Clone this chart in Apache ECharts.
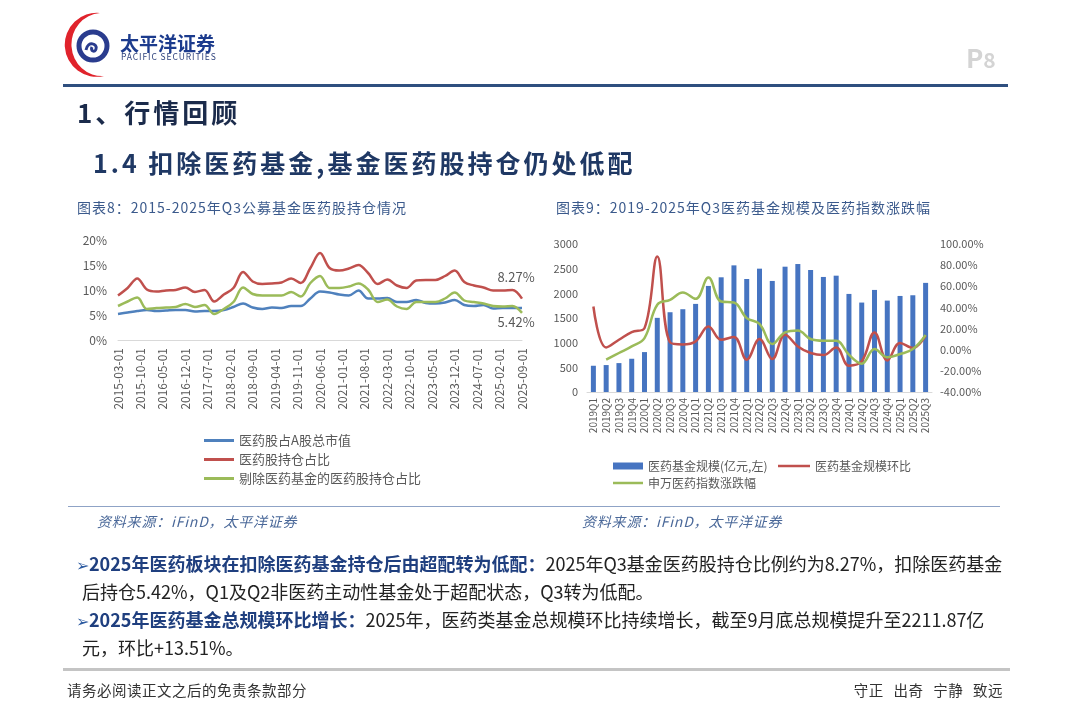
<!DOCTYPE html>
<html>
<head>
<meta charset="utf-8">
<script src="https://cdn.jsdelivr.net/npm/echarts@6/dist/echarts.min.js"></script>
<style>
  html, body { margin: 0; padding: 0; background: #fff; }
  body { width: 1080px; height: 723px; position: relative; overflow: hidden; font-family: "Noto Sans CJK SC", "Noto Sans", sans-serif; }
  #main { position: absolute; left: 0; top: 0; width: 1080px; height: 723px; }
  .txt { position: absolute; white-space: nowrap; }
  .bar { position: absolute; }
  .hl { color: #1f3f7f; font-weight: bold; }
  .arrow { color: #2c5aa0; font-size: 16px; }
</style>
</head>
<body>
<div id="main"></div>

<!-- 页眉 -->
<svg class="bar" style="left:60px;top:8px" width="60" height="74" viewBox="60 8 60 74">
  <path d="M100 13 A32 32 0 1 0 104 76 A30 31 0 0 1 100 13 Z" fill="#e0232c"/>
  <circle cx="93" cy="46" r="14" fill="none" stroke="#2a3c8e" stroke-width="5"/>
  <path d="M86 50 C88 40 98 44 96 49 C95 53 90 51 92 47" fill="none" stroke="#2a3c8e" stroke-width="3"/>
</svg>
<div class="txt" style="left:120px;top:33px;font-size:19px;line-height:19px;font-weight:bold;color:#1c3b8d;">太平洋证券</div>
<div class="txt" style="left:121px;top:52px;font-size:8.5px;line-height:9px;letter-spacing:0.9px;color:#2b3f7a;">PACIFIC SECURITIES</div>
<div class="txt" style="left:966px;top:44px;font-size:26px;line-height:26px;font-weight:bold;color:#d4d4d4;">P<span style="font-size:21px">8</span></div>
<div class="bar" style="left:63px;top:84px;width:945px;height:3px;background:#2f4f7f;"></div>

<div class="txt" style="left:77px;top:98px;font-size:26px;line-height:28px;letter-spacing:3px;font-weight:bold;color:#1b2b4b;">1、行情回顾</div>
<div class="txt" style="left:93px;top:148px;font-size:25px;line-height:28px;letter-spacing:3px;font-weight:bold;color:#1f3864;">1.4 扣除医药基金,基金医药股持仓仍处低配</div>

<div class="txt" style="left:77px;top:199px;font-size:14px;line-height:16px;letter-spacing:1px;color:#3b5a8c;">图表8：2015-2025年Q3公募基金医药股持仓情况</div>
<div class="txt" style="left:556px;top:199px;font-size:14px;line-height:16px;letter-spacing:1px;color:#3b5a8c;">图表9：2019-2025年Q3医药基金规模及医药指数涨跌幅</div>

<div class="bar" style="left:68px;top:506px;width:932px;height:1px;background:#8fa3c6;"></div>
<div class="txt" style="left:97px;top:513px;font-size:14px;line-height:16px;letter-spacing:0.8px;font-style:italic;color:#4a6899;">资料来源：iFinD，太平洋证券</div>
<div class="txt" style="left:582px;top:513px;font-size:14px;line-height:16px;letter-spacing:0.8px;font-style:italic;color:#4a6899;">资料来源：iFinD，太平洋证券</div>

<div class="txt" style="left:76px;top:552px;font-size:18px;line-height:22px;color:#222;"><span class="arrow">➢</span><span class="hl">2025年医药板块在扣除医药基金持仓后由超配转为低配：</span>2025年Q3基金医药股持仓比例约为8.27%，扣除医药基金</div>
<div class="txt" style="left:82px;top:580px;font-size:18px;line-height:22px;color:#222;">后持仓5.42%，Q1及Q2非医药主动性基金处于超配状态，Q3转为低配。</div>
<div class="txt" style="left:76px;top:608px;font-size:18px;line-height:22px;color:#222;"><span class="arrow">➢</span><span class="hl">2025年医药基金总规模环比增长：</span>2025年，医药类基金总规模环比持续增长，截至9月底总规模提升至2211.87亿</div>
<div class="txt" style="left:82px;top:636px;font-size:18px;line-height:22px;color:#222;">元，环比+13.51%。</div>

<div class="bar" style="left:63px;top:668px;width:947px;height:3px;background:#c4c4c4;"></div>
<div class="txt" style="left:67px;top:682px;font-size:14.5px;line-height:16px;letter-spacing:0.5px;color:#333;">请务必阅读正文之后的免责条款部分</div>
<div class="txt" style="right:77px;top:682px;font-size:14.5px;line-height:16px;letter-spacing:0.5px;word-spacing:6px;color:#333;">守正 出奇 宁静 致远</div>

<script>
var FONT = 'Noto Sans CJK SC';

// 图表8：季度数据（%）
var holdDates = [];
for (var y = 2015; y <= 2025; y++) {
  ['03', '06', '09', '12'].forEach(function (m) {
    if ((y === 2015 && m < '03') || (y === 2025 && m > '09')) return;
    holdDates.push(y + '-' + m + '-01');
  });
}
// x轴月度刻度
var monthCats = [];
for (var yy = 2015; yy <= 2025; yy++) {
  for (var mm = 1; mm <= 12; mm++) {
    if ((yy === 2015 && mm < 3) || (yy === 2025 && mm > 9)) continue;
    monthCats.push(yy + '-' + (mm < 10 ? '0' + mm : mm) + '-01');
  }
}
var mktShare = [5.2, 5.5, 5.8, 6.0, 5.8, 5.9, 6.0, 6.0, 5.7, 5.8, 5.8, 6.0, 6.6, 7.3, 6.5, 6.2, 6.5, 6.4, 6.8, 6.8,
  8.3, 9.7, 9.5, 9.1, 8.9, 9.9, 8.3, 8.3, 8.4, 7.6, 7.6, 8.0, 7.4, 7.3, 7.5, 8.0, 7.0, 6.8, 7.0, 6.3, 6.4, 6.4, 6.4];
var holdRatio = [8.9, 10.4, 12.3, 10.1, 9.7, 9.9, 10.0, 10.5, 9.6, 10.0, 7.7, 9.1, 10.4, 13.6, 11.7, 11.2, 11.3, 11.5, 12.3, 11.4,
  14.4, 17.4, 14.4, 13.9, 14.3, 15.0, 13.4, 11.2, 12.1, 10.9, 10.4, 11.9, 12.0, 12.0, 12.8, 13.9, 11.6, 10.9, 10.5, 9.9, 9.9, 10.0, 8.27];
var holdExFund = [6.8, 7.7, 8.5, 6.2, 6.4, 6.5, 6.6, 7.2, 6.6, 7.0, 5.2, 6.2, 7.6, 10.5, 9.2, 8.9, 8.9, 8.9, 9.6, 8.7,
  11.4, 12.8, 10.4, 10.4, 10.7, 11.3, 10.1, 7.6, 8.1, 6.7, 6.2, 7.6, 7.6, 7.6, 8.3, 9.5, 7.9, 7.6, 7.3, 6.8, 6.7, 6.8, 5.42];

// 图表9
var quarters = ['2019Q1', '2019Q2', '2019Q3', '2019Q4', '2020Q1', '2020Q2', '2020Q3', '2020Q4', '2021Q1', '2021Q2',
  '2021Q3', '2021Q4', '2022Q1', '2022Q2', '2022Q3', '2022Q4', '2023Q1', '2023Q2', '2023Q3', '2023Q4',
  '2024Q1', '2024Q2', '2024Q3', '2024Q4', '2025Q1', '2025Q2', '2025Q3'];
var fundSize = [532, 546, 586, 674, 809, 1503, 1617, 1678, 1786, 2150, 2325, 2567, 2291, 2500, 2251, 2540, 2594, 2473, 2332, 2358,
  1988, 1813, 2069, 1853, 1947, 1961, 2212];
var sizeQoq = [40.9, 2.2, 9.4, 16.7, 20.4, 88.1, 6.9, 5.0, 7.9, 22.0, 9.4, 12.0, -9.4, 10.1, -8.8, 14.2, 3.1, -3.1, -5.0, 2.2,
  -15.1, -11.0, 16.4, -10.1, 6.3, 1.6, 13.51];
var indexChg = [null, -9.4, -3.1, 3.1, 11.0, 42.5, 47.2, 54.1, 48.1, 68.2, 45.6, 44.7, 29.9, 24.5, 5.3, 16.4, 18.2, 10.1, 8.5, 8.5,
  -4.7, -13.2, 0.6, -7.2, -4.1, 0.6, 14.0];

var leftNames = ['医药股占A股总市值', '医药股持仓占比', '剔除医药基金的医药股持仓占比'];
var rightNames = ['医药基金规模(亿元,左)', '医药基金规模环比', '申万医药指数涨跌幅'];

function pairs(vals) {
  return vals.map(function (v, i) { return [holdDates[i], v]; });
}
function lastMark(vals, pos, offset) {
  var n = vals.length - 1;
  return {
    symbol: 'circle', symbolSize: 1,
    itemStyle: { color: 'rgba(0,0,0,0)' },
    label: { show: true, position: pos, offset: offset, color: '#595959', fontSize: 13, fontFamily: FONT,
      formatter: vals[n].toFixed(2) + '%' },
    data: [{ coord: [holdDates[n], vals[n]] }]
  };
}

var labelColor = '#595959';
var legendText = { fontSize: 12, color: labelColor };
var myChart = echarts.init(document.getElementById('main'));
var option = {
  animation: false,
  textStyle: { fontFamily: FONT },
  grid: [
    { left: 118, top: 240, width: 404, height: 100 },
    { left: 587, top: 244, width: 345, height: 148 }
  ],
  legend: [{
    data: leftNames,
    orient: 'vertical',
    left: 199, top: 429, icon: 'rect',
    itemWidth: 30, itemHeight: 3, itemGap: 6,
    textStyle: { fontSize: 13, color: labelColor }
  }, {
    data: [rightNames[0]],
    left: 608, top: 455, icon: 'rect',
    itemWidth: 30, itemHeight: 7, textStyle: legendText
  }, {
    data: [rightNames[1]],
    left: 773, top: 455, icon: 'rect',
    itemWidth: 32, itemHeight: 2.5, textStyle: legendText
  }, {
    data: [rightNames[2]],
    left: 608, top: 472, icon: 'rect',
    itemWidth: 30, itemHeight: 2.5, textStyle: legendText
  }],
  xAxis: [{
    gridIndex: 0, type: 'category', data: monthCats, boundaryGap: false,
    axisLine: { lineStyle: { color: '#d9d9d9' } },
    axisTick: { show: false },
    axisLabel: { interval: 6, rotate: 90, color: labelColor, fontSize: 12, margin: 8 }
  }, {
    gridIndex: 1, type: 'category', data: quarters,
    axisLine: { lineStyle: { color: '#d9d9d9' } },
    axisTick: { show: false },
    axisLabel: { interval: 0, rotate: 90, color: labelColor, fontSize: 10, margin: 6 }
  }],
  yAxis: [{
    gridIndex: 0, type: 'value', min: 0, max: 20, interval: 5,
    axisLabel: { formatter: '{value}%', color: labelColor, fontSize: 12, margin: 11 },
    axisLine: { show: false }, axisTick: { show: false }, splitLine: { show: false }
  }, {
    gridIndex: 1, type: 'value', min: 0, max: 3000, interval: 500,
    axisLabel: { color: labelColor, fontSize: 11, margin: 9,
      formatter: function (v) { return String(v); } },
    axisLine: { show: false }, axisTick: { show: false }, splitLine: { show: false }
  }, {
    gridIndex: 1, type: 'value', min: -40, max: 100, interval: 20, position: 'right',
    axisLabel: { color: labelColor, fontSize: 11, margin: 8,
      formatter: function (v) { return v.toFixed(2) + '%'; } },
    axisLine: { show: false }, axisTick: { show: false }, splitLine: { show: false }
  }],
  series: [{
    name: leftNames[0], type: 'line', xAxisIndex: 0, yAxisIndex: 0,
    data: pairs(mktShare), smooth: 0.35, symbol: 'none',
    lineStyle: { color: '#4f81bd', width: 2.5 }, itemStyle: { color: '#4f81bd' }
  }, {
    name: leftNames[1], type: 'line', xAxisIndex: 0, yAxisIndex: 0,
    data: pairs(holdRatio), smooth: 0.35, symbol: 'none',
    lineStyle: { color: '#c0504d', width: 2.5 }, itemStyle: { color: '#c0504d' },
    markPoint: lastMark(holdRatio, 'top', [-6, -10])
  }, {
    name: leftNames[2], type: 'line', xAxisIndex: 0, yAxisIndex: 0,
    data: pairs(holdExFund), smooth: 0.35, symbol: 'none',
    lineStyle: { color: '#9bbb59', width: 2.5 }, itemStyle: { color: '#9bbb59' },
    markPoint: lastMark(holdExFund, 'bottom', [-6, -3])
  }, {
    name: rightNames[0], type: 'bar', xAxisIndex: 1, yAxisIndex: 1,
    data: fundSize, barWidth: 5,
    itemStyle: { color: '#4674c1' }
  }, {
    name: rightNames[1], type: 'line', xAxisIndex: 1, yAxisIndex: 2,
    data: sizeQoq, smooth: 0.4, symbol: 'none',
    lineStyle: { color: '#c0504d', width: 2.5 }, itemStyle: { color: '#c0504d' }
  }, {
    name: rightNames[2], type: 'line', xAxisIndex: 1, yAxisIndex: 2,
    data: indexChg, smooth: 0.4, symbol: 'none',
    lineStyle: { color: '#9bbb59', width: 2.5 }, itemStyle: { color: '#9bbb59' }
  }]
};
myChart.setOption(option);
</script>
</body>
</html>
